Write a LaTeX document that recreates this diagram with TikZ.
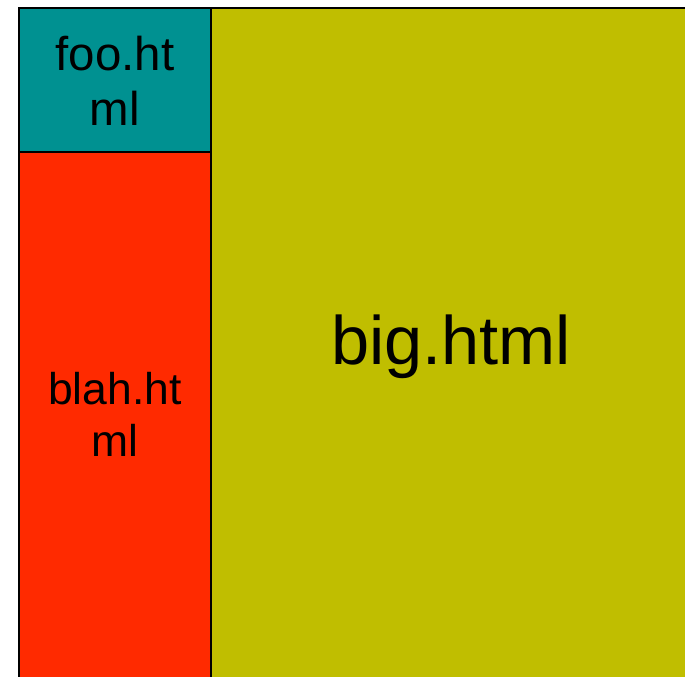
\documentclass[tikz,border=0pt]{standalone}
\usepackage{fontspec}
\setmainfont{Liberation Sans}
\usepackage{tikz}

\definecolor{footeal}{RGB}{0,145,145}
\definecolor{blahred}{RGB}{255,42,0}
\definecolor{bigolive}{RGB}{192,190,0}

\tikzset{
	tile/.style={draw=black, line width=1.1pt},
	tilelabel/.style={align=center, inner sep=0pt, font=\fontsize{27}{31}\selectfont},
}

\begin{document}
\begin{tikzpicture}[x=0.02cm, y=-0.02cm]
	\useasboundingbox (0,0) rectangle (685,676);
	\clip (0,0) rectangle (685,676);
	
	%tiles
	\draw[tile, fill=bigolive] (211,8) rectangle (700,700);	%big tile
	\draw[tile, fill=footeal]  (19,8) rectangle (211,152);	%top left tile
	\draw[tile, fill=blahred]  (19,152) rectangle (211,700);	%bottom left tile
	
	%labels
	\node[tilelabel] (foo) at (115,81) {foo.ht\\ml};
	%
	\node[tilelabel, font=\fontsize{25.3}{29.5}\selectfont] (blah) at (115,414) {blah.ht\\ml};
	%
	\node[tilelabel, font=\fontsize{39}{45}\selectfont] (big) at (451,347) {big.html};
	
\end{tikzpicture}
\end{document}
